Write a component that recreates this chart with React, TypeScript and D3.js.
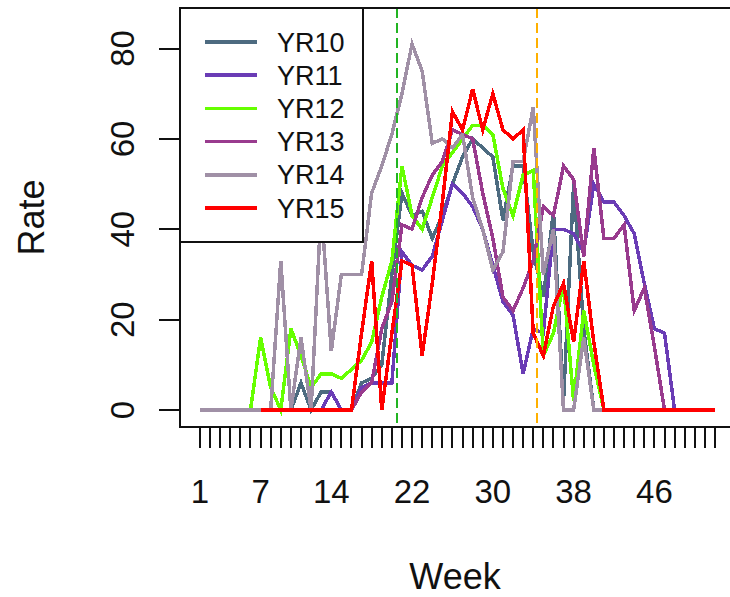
import React from "react";
import * as d3 from "d3";

const weeks = d3.range(1, 53);
const seriesNames = ["YR10", "YR11", "YR12", "YR13", "YR14", "YR15"];
const seriesColors = ["#4d6b80", "#6a3cb5", "#66ff00", "#993b8e", "#a090a6", "#ff0000"];

const N = null;
const yr10 = [N, N, N, N, N, N, N, N, 0, 0, 6, 0, 4, 4, 0, 0, 6, 7, 10, 30, 48, 43, 44, 38, 43, 50, 56, 60, 58, 56, 42, 54, 54, 35, 25, 44, 2, 50, 18, 0, 0, 0, 0, 0, 0, 0, 0, 0, 0, 0, 0, 0];
const yr11 = [N, N, N, N, N, N, N, N, N, N, N, N, 0, 4, 0, 0, 5, 6, 6, 6, 35, 32, 31, 34, 42, 50, 48, 45, 40, 32, 24, 21, 8, 18, 17, 40, 40, 39, 35, 50, 46, 46, 43, 39, 28, 18, 17, 0, 0, 0, 0, 0];
const yr12 = [N, N, N, N, N, 0, 16, 5, 0, 18, 12, 5, 8, 8, 7, 9, 11, 15, 25, 33, 54, 43, 40, 47, 54, 57, 60, 63, 63, 61, 49, 43, 52, 53, 12, 17, 28, 2, 22, 10, 0, 0, 0, 0, 0, 0, 0, 0, 0, 0, 0, 0];
const yr13 = [N, N, N, N, N, N, N, N, N, N, N, N, N, N, 0, 0, 4, 6, 18, 24, 41, 40, 47, 52, 55, 62, 61, 60, 48, 38, 25, 22, 27, 33, 45, 43, 54, 51, 34, 58, 38, 38, 41, 22, 27, 14, 0, 0, 0, 0, 0, 0];
const yr14 = [0, 0, 0, 0, 0, 0, 0, 0, 33, 0, 16, 0, 45, 13, 30, 30, 30, 48, 54, 61, 70, 81, 75, 59, 60, 58, 61, 47, 40, 31, 35, 55, 55, 67, 30, 40, 0, 0, 16, 0, 0, 0, 0, 0, 0, 0, 0, 0, 0, 0, 0, 0];
const yr15 = [N, N, N, N, N, N, 0, 0, 0, 0, 0, 0, 0, 0, 0, 0, 17, 33, 0, 17, 33, 32, 12, 28, 46, 66, 62, 71, 62, 70, 62, 60, 62, 17, 12, 23, 28, 15, 33, 15, 0, 0, 0, 0, 0, 0, 0, 0, 0, 0, 0, 0];
const seriesValues = [yr10, yr11, yr12, yr13, yr14, yr15];

const xTickLabels = [1, 7, 14, 22, 30, 38, 46];
const yTicks = [0, 20, 40, 60, 80];
const markerWeeks = [20.5, 34.4];
const markerColors = ["#22b422", "#ffb000"];

const FONT = "'Liberation Sans', Arial, sans-serif";

export default function App() {
  const W = 730, H = 597;
  const box = { l: 180, t: 8, r: 736, b: 427 };
  const x = d3.scaleLinear().domain([1, 52]).range([200, 715]);
  const y = d3.scaleLinear().domain([0, 80]).range([410, 48.5]);
  const line = d3
    .line<number | null>()
    .defined((d) => d != null)
    .x((_, i) => x(weeks[i]))
    .y((d) => y(d as number));

  const legend = { l: 180, t: 8, r: 363, b: 242 };
  const legY0 = 42, legDy = 33.2;

  return (
    <svg width={W} height={H} style={{ position: "absolute", left: 0, top: 0, background: "#fff" }}>
      <rect x={0} y={0} width={W} height={H} fill="#fff" />
      {seriesValues.map((vals, k) => (
        <path
          key={k}
          d={line(vals) || ""}
          fill="none"
          stroke={seriesColors[k]}
          strokeWidth={3.5}
          strokeLinejoin="miter"
          shapeRendering="crispEdges"
        />
      ))}
      {markerWeeks.map((w, k) => (
        <line
          key={k}
          x1={x(w)}
          x2={x(w)}
          y1={box.t}
          y2={box.b}
          stroke={markerColors[k]}
          strokeWidth={2}
          strokeDasharray="10,5"
          shapeRendering="crispEdges"
        />
      ))}
      {/* legend */}
      <rect
        x={legend.l}
        y={legend.t}
        width={legend.r - legend.l}
        height={legend.b - legend.t}
        fill="#fff"
        stroke="#111"
        strokeWidth={2}
      />
      {seriesNames.map((name, k) => (
        <g key={name}>
          <line
            x1={205}
            x2={257}
            y1={legY0 + k * legDy}
            y2={legY0 + k * legDy}
            stroke={seriesColors[k]}
            strokeWidth={3.5}
            shapeRendering="crispEdges"
          />
          <text x={277} y={legY0 + k * legDy + 9.5} fontFamily={FONT} fontSize={27} fill="#111">
            {name}
          </text>
        </g>
      ))}
      {/* plot box */}
      <rect
        x={box.l}
        y={box.t}
        width={box.r - box.l}
        height={box.b - box.t}
        fill="none"
        stroke="#111"
        strokeWidth={2}
      />
      {/* x ticks */}
      {weeks.map((w) => (
        <line key={w} x1={x(w)} x2={x(w)} y1={box.b} y2={box.b + 21} stroke="#111" strokeWidth={2} shapeRendering="crispEdges" />
      ))}
      {xTickLabels.map((w) => (
        <text key={w} x={x(w)} y={503} textAnchor="middle" fontFamily={FONT} fontSize={33} fill="#111">
          {w}
        </text>
      ))}
      {/* y ticks */}
      {yTicks.map((v) => (
        <g key={v}>
          <line x1={box.l - 21} x2={box.l} y1={y(v)} y2={y(v)} stroke="#111" strokeWidth={2} shapeRendering="crispEdges" />
          <text
            transform={`translate(134,${y(v)}) rotate(-90)`}
            textAnchor="middle"
            fontFamily={FONT}
            fontSize={33}
            fill="#111"
          >
            {v}
          </text>
        </g>
      ))}
      <text x={455} y={589} textAnchor="middle" fontFamily={FONT} fontSize={36} fill="#111">
        Week
      </text>
      <text
        transform={`translate(44,${(box.t + box.b) / 2}) rotate(-90)`}
        textAnchor="middle"
        fontFamily={FONT}
        fontSize={36}
        fill="#111"
      >
        Rate
      </text>
    </svg>
  );
}
